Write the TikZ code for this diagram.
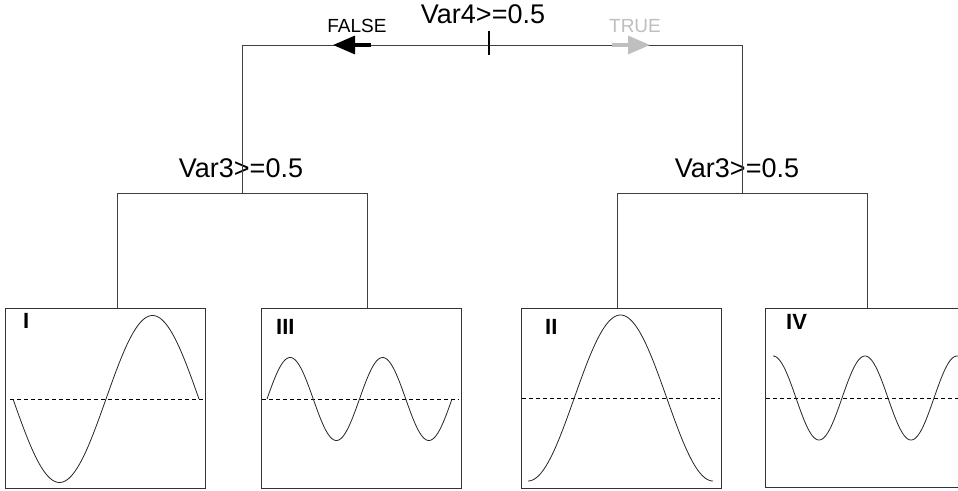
\documentclass[tikz,border=0pt]{standalone}
\usepackage{fontspec}
\setmainfont{Liberation Sans}
\usetikzlibrary{arrows.meta}
\begin{document}
\begin{tikzpicture}[x=1pt,y=-1pt,
  tree/.style={draw=black!75, line width=0.9pt},
  panel/.style={draw=black!80, line width=0.9pt},
  wave/.style={draw=black!85, line width=0.8pt, smooth},
  zero/.style={draw=black, line width=0.7pt, dash pattern=on 4pt off 3pt},
  split/.style={font=\fontsize{27}{27}\selectfont, inner sep=0pt, anchor=base},
  branch/.style={font=\fontsize{19}{19}\selectfont, inner sep=0pt, anchor=base},
  roman/.style={font=\bfseries\fontsize{22}{22}\selectfont, inner sep=0pt, anchor=base west}]
\useasboundingbox (0,0) rectangle (958,490);
\fill[white] (0,0) rectangle (958,490);

% labels
\node[split] (v4) at (483,23) {Var4>=0.5};
\node[split] (v3l) at (241,177) {Var3>=0.5};
\node[split] (v3r) at (737,177) {Var3>=0.5};
\node[branch] (false) at (357,32) {FALSE};
\node[branch, text=black!25] (true) at (635,32) {TRUE};

% tree coordinates
\coordinate (rootL) at (242,45);
\coordinate (rootR) at (742,45);
\coordinate (lmid) at (242,193);
\coordinate (rmid) at (742,193);
\coordinate (ll) at (117,193);
\coordinate (lr) at (367,193);
\coordinate (rl) at (617,193);
\coordinate (rr) at (867,193);

% boxes
\node[panel, minimum width=200pt, minimum height=180pt, inner sep=0pt, anchor=north west] (b1) at (5,308) {};
\node[panel, minimum width=200pt, minimum height=180pt, inner sep=0pt, anchor=north west] (b3) at (261,308) {};
\node[panel, minimum width=200pt, minimum height=180pt, inner sep=0pt, anchor=north west] (b2) at (521,308) {};
\coordinate (b4tr) at (960,308);
\coordinate (b4tl) at (765,308);
\coordinate (b4bl) at (765,487);
\coordinate (b4br) at (960,487);
\draw[panel] (b4tr) -- (b4tl) -- (b4bl) -- (b4br);

% tree lines
\draw[tree] (rootL) -- (rootR);
\draw[tree] (rootL) -- (lmid);
\draw[tree] (rootR) -- (rmid);
\draw[tree] (ll) -- (lr);
\draw[tree] (rl) -- (rr);
\draw[tree] (ll) -- (ll |- b1.north);
\draw[tree] (lr) -- (lr |- b3.north);
\draw[tree] (rl) -- (rl |- b2.north);
\draw[tree] (rr) -- (rr |- b4tl);

% split tick and arrows
\coordinate (tickT) at (489,31);
\coordinate (tickB) at (489,55);
\draw[line width=2.6pt] (tickT) -- (tickB);
\coordinate (fs) at (371,45);
\coordinate (fe) at (333,45);
\draw[line width=3.2pt, -{Triangle[length=22pt,width=18pt]}] (fs) -- (fe);
\coordinate (ts) at (612,45);
\coordinate (te) at (650,45);
\draw[black!25, line width=3.2pt, -{Triangle[length=22pt,width=18pt]}] (ts) -- (te);

% zero lines
\draw[zero] (10,399) -- (204,399);
\draw[zero] (262,399) -- (459,399);
\draw[zero] (522,398) -- (720,398);
\draw[zero] (766,398) -- (958,398);

% waves
\draw[wave] plot[domain=0:360, samples=120] ({13+\x/360*186}, {399+83.5*sin(\x)});
\draw[wave] plot[domain=0:720, samples=160] ({267+\x/720*185}, {399-41.5*sin(\x)});
\draw[wave] plot[domain=0:360, samples=120] ({528+\x/360*185}, {398+83*cos(\x)});
\draw[wave] plot[domain=0:724, samples=160] ({773+\x/360*92}, {398-42*cos(\x)});

% panel labels
\node[roman] (l1) at (23,328) {I};
\node[roman] (l3) at (276,334) {III};
\node[roman] (l2) at (545,334) {II};
\node[roman] (l4) at (786,329) {IV};
\end{tikzpicture}
\end{document}
